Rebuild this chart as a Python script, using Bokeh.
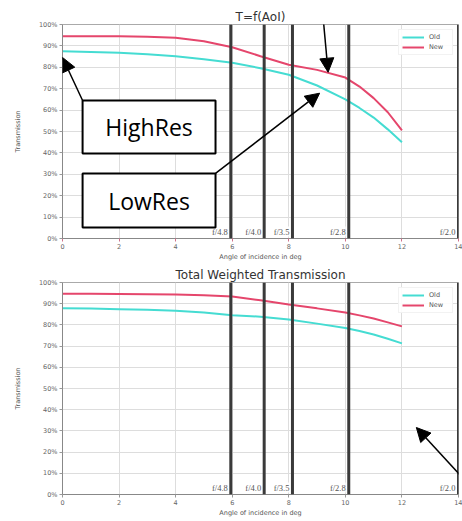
from bokeh.plotting import figure
from bokeh.layouts import column
from bokeh.models import (Span, LabelSet, ColumnDataSource, Arrow, NormalHead,
                          BoxAnnotation, Label, FixedTicker, PrintfTickFormatter)
from bokeh.embed import file_html
from bokeh.resources import INLINE

# ---------------- data ----------------
angles = [0, 1, 2, 3, 4, 5, 6, 7, 8, 9, 10, 10.5, 11, 11.5, 12]
top_old = [87.5, 87.2, 86.8, 86.1, 85.2, 83.8, 82.1, 79.6, 76.5, 71.5, 65.0, 61.0, 56.5, 51.0, 45.0]
top_new = [94.5, 94.5, 94.5, 94.3, 93.8, 92.2, 89.4, 85.2, 81.2, 78.8, 75.2, 71.0, 65.6, 59.0, 50.5]
tw_old = [87.9, 87.7, 87.4, 87.1, 86.7, 85.8, 84.6, 83.9, 82.6, 80.6, 78.5, 77.1, 75.5, 73.5, 71.3]
tw_new = [94.7, 94.7, 94.6, 94.5, 94.3, 94.0, 93.4, 91.6, 89.6, 87.8, 85.8, 84.5, 83.0, 81.2, 79.3]
series_names = ["Old", "New"]
fstop_angles = [5.95, 7.13, 8.13, 10.12, 14.0]
fstop_labels = ["f/4.8", "f/4.0", "f/3.5", "f/2.8", "f/2.0"]
x_ticks = [0, 2, 4, 6, 8, 10, 12, 14]
y_ticks = [0, 10, 20, 30, 40, 50, 60, 70, 80, 90, 100]
titles = ["T=f(AoI)", "Total Weighted Transmission"]
x_label = "Angle of incidence in deg"
y_label = "Transmission"

CYAN = "#45dcd2"
RED = "#e5466c"
FONT = "DejaVu Sans"


def make_fig(title, height, top, bottom, old, new, tick_color):
    p = figure(width=462, height=height, x_range=(0, 14), y_range=(0, 100),
               output_backend="svg", toolbar_location=None, title=title,
               min_border_left=62, min_border_right=4,
               min_border_top=top, min_border_bottom=bottom)
    p.title.align = "center"
    p.title.text_font = FONT
    p.title.text_font_size = "12px"
    p.title.text_font_style = "normal"
    p.title.text_color = "#333333"
    p.title.standoff = 1
    p.outline_line_color = "#aaaaaa"
    p.background_fill_color = "white"

    p.xaxis.ticker = FixedTicker(ticks=x_ticks)
    p.yaxis.ticker = FixedTicker(ticks=y_ticks)
    p.yaxis.formatter = PrintfTickFormatter(format="%d%%")
    for ax in (p.xaxis, p.yaxis):
        ax.axis_line_color = "#888888"
        ax.major_tick_line_color = "#999999"
        ax.major_tick_out = 3
        ax.major_tick_in = 0
        ax.minor_tick_line_color = None
        ax.major_label_text_font = FONT
        ax.major_label_text_font_size = "6.5px"
        ax.major_label_text_color = "#666666"
        ax.major_label_standoff = 2
        ax.axis_label_text_font = FONT
        ax.axis_label_text_font_size = "6.5px"
        ax.axis_label_text_font_style = "normal"
        ax.axis_label_text_color = "#555555"
    p.xaxis.major_tick_line_color = tick_color
    p.xaxis.axis_label = x_label
    p.xaxis.axis_label_standoff = 1
    p.yaxis.axis_label = y_label
    p.yaxis.axis_label_standoff = 14

    p.xgrid.grid_line_color = "#dddddd"
    p.ygrid.grid_line_color = "#dddddd"

    p.line(angles, old, line_color=CYAN, line_width=2, legend_label=series_names[0])
    p.line(angles, new, line_color=RED, line_width=2, legend_label=series_names[1])

    for a in fstop_angles:
        p.add_layout(Span(location=a, dimension="height", line_color="#3a3a3a",
                          line_width=3, level="overlay"))
    src = ColumnDataSource(dict(x=fstop_angles, y=[0] * len(fstop_angles), t=fstop_labels))
    p.add_layout(LabelSet(x="x", y="y", text="t", source=src, text_align="right",
                          text_baseline="bottom", x_offset=-3, y_offset=2,
                          text_font=FONT, text_font_size="8.5px", text_color="#555555",
                          background_fill_color="white", background_fill_alpha=0.9))

    lg = p.legend[0]
    lg.location = "top_right"
    lg.label_text_font = FONT
    lg.label_text_font_size = "6.5px"
    lg.label_text_color = "#555555"
    lg.glyph_width = 22
    lg.glyph_height = 8
    lg.label_height = 8
    lg.spacing = 2
    lg.padding = 3
    lg.margin = 5
    lg.border_line_color = "#e6e6e6"
    lg.background_fill_alpha = 0.9
    return p


p1 = make_fig(titles[0], 264, 24, 26, top_old, top_new, "#d0708a")
p2 = make_fig(titles[1], 257, 18, 27, tw_old, tw_new, "#999999")

head = dict(size=14, fill_color="black", line_color="black")

# annotation boxes on top chart
for (bot, topv, txt) in [(39.7, 64.5, "HighRes"), (5.1, 30.4, "LowRes")]:
    p1.add_layout(BoxAnnotation(left=0.71, right=5.41, bottom=bot, top=topv,
                                fill_color="white", fill_alpha=1.0,
                                line_color="black", line_alpha=1.0, line_width=2,
                                level="overlay"))
    p1.add_layout(Label(x=3.06, y=(bot + topv) / 2, text=txt, text_align="center",
                        text_baseline="middle", text_font="Open Sans",
                        text_font_size="23px", text_color="black", level="overlay"))

p1.add_layout(Arrow(end=NormalHead(**head), x_start=0.71, y_start=64.5,
                    x_end=0.0, y_end=84.6, line_width=1.5, level="overlay"))
p1.add_layout(Arrow(end=NormalHead(**head), x_start=5.41, y_start=30.4,
                    x_end=9.09, y_end=67.9, line_width=1.5, level="overlay"))
p1.add_layout(Arrow(end=NormalHead(**head), x_start=9.16, y_start=111,
                    x_end=9.39, y_end=77.7, line_width=1.5, level="overlay"))
p2.add_layout(Arrow(end=NormalHead(**head), x_start=14.14, y_start=8.0,
                    x_end=12.51, y_end=31.6, line_width=1.5, level="overlay"))

layout = column(p1, p2, spacing=0)
open("out.html", "w").write(file_html(layout, INLINE))
